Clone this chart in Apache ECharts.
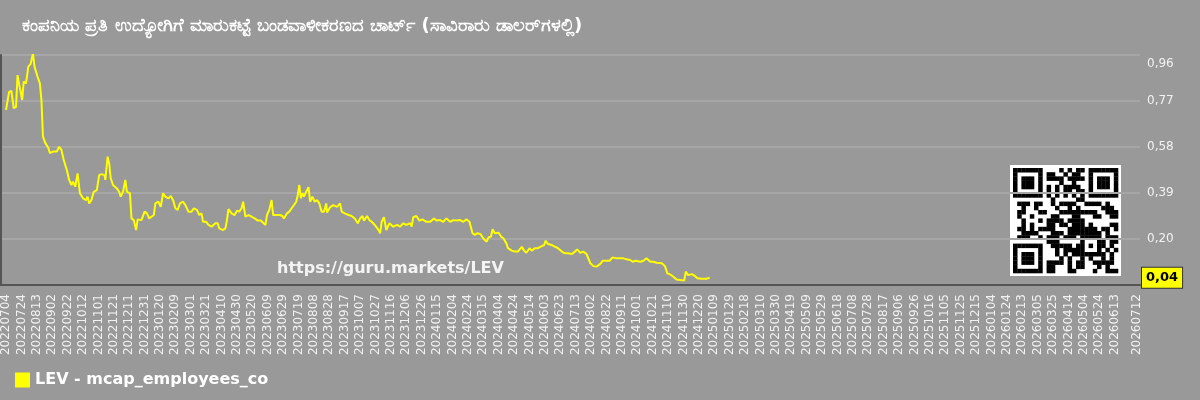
<!DOCTYPE html>
<html>
<head>
<meta charset="utf-8">
<script src="https://cdn.jsdelivr.net/npm/echarts@6/dist/echarts.min.js"></script>
<style>
  html, body { margin: 0; padding: 0; background: #999999; }
  #chart { width: 1200px; height: 400px; }
</style>
</head>
<body>
<div id="chart"></div>
<script>
// title (Kannada)
const titleText = 'ಕಂಪನಿಯ ಪ್ರತಿ ಉದ್ಯೋಗಿಗೆ ಮಾರುಕಟ್ಟೆ ಬಂಡವಾಳೀಕರಣದ ಚಾರ್ಟ್ (ಸಾವಿರಾರು ಡಾಲರ್‌ಗಳಲ್ಲಿ)';
const seriesName = 'LEV - mcap_employees_co';
const startDate = '20220704';

// x tick labels (every 20 days, plus the last one)
const xTickLabels = [
  '20220704','20220724','20220813','20220902','20220922','20221012','20221101','20221121','20221211','20221231',
  '20230120','20230209','20230301','20230321','20230410','20230430','20230520','20230609','20230629','20230719',
  '20230808','20230828','20230917','20231007','20231027','20231116','20231206','20231226',
  '20240115','20240204','20240224','20240315','20240404','20240424','20240514','20240603','20240623','20240713',
  '20240802','20240822','20240911','20241001','20241021','20241110','20241130','20241220',
  '20250109','20250129','20250218','20250310','20250330','20250419','20250509','20250529','20250618','20250708',
  '20250728','20250817','20250906','20250926','20251016','20251105','20251125','20251215',
  '20260104','20260124','20260213','20260305','20260325','20260414','20260504','20260524','20260613','20260712'
];
const yTicks = [0.20, 0.39, 0.58, 0.77, 0.96];

// days since startDate
const days = [
  0,4,7,10,13,15,18,21,23,26,29,32,35,37,39,41,44,46,48,51,55,57,61,66,69,72,75,79,82,85,87,90,93,96,100,
  104,106,108,111,114,118,121,124,128,129,132,134,136,139,144,147,149,152,155,157,161,163,166,169,171,176,
  180,183,186,189,192,194,198,201,204,207,211,214,217,220,223,226,230,233,237,241,244,248,251,254,256,260,
  263,267,272,275,277,282,285,287,289,293,297,300,303,
  306,308,311,315,319,323,327,331,334,337,339,342,345,347,352,356,359,361,365,368,371,374,377,379,381,383,
  385,387,390,393,395,398,401,404,407,410,413,416,417,421,425,430,434,436,440,445,449,453,457,460,463,465,
  469,472,475,479,484,486,488,491,494,498,503,508,512,516,520,525,527,529,533,537,541,546,551,556,559,564,
  568,572,577,581,585,590,594,598,602,
  606,609,612,616,620,624,627,630,632,635,640,643,646,650,652,657,661,665,670,673,676,680,683,687,691,696,
  699,701,704,709,713,717,722,726,730,735,739,742,746,750,754,759,763,767,772,775,779,784,788,793,798,802,
  806,811,814,818,824,828,832,837,841,845,852,856,859,862,867,871,876,881,883,886,891,895,898,904,910,914
];
const values = [
  .733,.808,.812,.741,.745,.877,.824,.774,.850,.843,.912,.923,.967,.912,.919,.870,.843,.774,.623,.597,.576,.555,.561,.561,.581,.568,.526,.485,.444,.423,.437,.416,.471,.389,.368,
  .361,.375,.347,.361,.395,.402,.464,.468,.464,.444,.540,.513,.451,.423,.409,.395,.375,.395,.444,.395,.389,.285,.278,.237,.281,.278,
  .313,.306,.285,.292,.299,.347,.354,.333,.389,.375,.368,.378,.361,.327,.320,.347,.354,.340,.313,.313,.327,.320,.299,.306,.271,.271,
  .258,.251,.265,.265,.244,.237,.244,.278,.323,.306,.299,.317,.313,
  .327,.354,.292,.299,.292,.285,.276,.276,.267,.258,.299,.320,.361,.299,.299,.299,.295,.285,.306,.313,.327,.340,.354,.382,.423,.368,
  .389,.375,.395,.414,.354,.375,.354,.361,.347,.313,.313,.347,.309,.331,.340,.333,.347,.313,.306,.299,.295,.285,.265,.285,.295,.276,
  .295,.278,.271,.258,.237,.224,.271,.290,.237,.265,.251,.258,.251,.265,.258,.265,.251,.290,.295,.276,.281,.271,.271,.285,.276,.278,
  .271,.285,.271,.278,.276,.278,.271,.281,.271,
  .224,.217,.224,.221,.203,.189,.207,.210,.240,.224,.226,.210,.203,.182,.162,.152,.148,.148,.168,.152,.143,.162,.152,.162,.162,.171,
  .175,.193,.179,.175,.168,.162,.148,.141,.141,.138,.148,.157,.143,.148,.138,.100,.088,.086,.097,.110,.110,.110,.124,.120,.120,.120,
  .116,.113,.106,.110,.106,.110,.120,.106,.106,.102,.100,.088,.058,.055,.044,.033,.031,.028,.065,.051,.055,.047,.038,.036,.036,.04
];

function parseYmd(s) {
  return Date.UTC(+s.slice(0, 4), +s.slice(4, 6) - 1, +s.slice(6, 8));
}
const DAY = 86400000;
const t0 = parseYmd(startDate);
const xTickDays = xTickLabels.map(s => Math.round((parseYmd(s) - t0) / DAY));
const labelByDay = {};
xTickDays.forEach((d, i) => { labelByDay[d] = xTickLabels[i]; });

const lineData = days.map((d, i) => [d, values[i]]);
const lastValue = values[values.length - 1];
const fmt = v => v.toFixed(2).replace('.', ',');

// QR-like badge (decoration only)
function qrElements(x0, y0, cell, n) {
  const els = [{ type: 'rect', shape: { x: x0 - 3, y: y0 - 3, width: cell * n + 6, height: cell * n + 6 }, style: { fill: '#fff' } }];
  const on = [];
  for (let r = 0; r < n; r++) { on.push(new Array(n).fill(false)); }
  let seed = 12345;
  const rnd = () => { seed = (seed * 1103515245 + 12345) % 2147483648; return seed / 2147483648; };
  for (let r = 0; r < n; r++) for (let c = 0; c < n; c++) on[r][c] = rnd() < 0.5;
  function finder(r0, c0) {
    for (let r = -1; r < 8; r++) for (let c = -1; c < 8; c++) {
      const rr = r0 + r, cc = c0 + c;
      if (rr < 0 || cc < 0 || rr >= n || cc >= n) continue;
      const ring = Math.max(Math.abs(r - 3), Math.abs(c - 3));
      on[rr][cc] = (ring === 3 || ring <= 1);
    }
  }
  finder(0, 0); finder(0, n - 7); finder(n - 7, 0);
  for (let r = -2; r <= 2; r++) for (let c = -2; c <= 2; c++) {
    const ring = Math.max(Math.abs(r), Math.abs(c));
    on[n - 7 + r][n - 7 + c] = ring !== 1;
  }
  for (let i = 8; i < n - 8; i++) { on[6][i] = i % 2 === 0; on[i][6] = i % 2 === 0; }
  for (let r = 0; r < n; r++) for (let c = 0; c < n; c++) {
    if (on[r][c]) {
      els.push({ type: 'rect', shape: { x: x0 + c * cell, y: y0 + r * cell, width: cell + 0.3, height: cell + 0.3 }, style: { fill: '#000' } });
    }
  }
  return els;
}

const chart = echarts.init(document.getElementById('chart'));
chart.setOption({
  backgroundColor: '#999999',
  animation: false,
  title: {
    text: titleText,
    left: 17,
    top: 12,
    textStyle: { color: '#ffffff', fontSize: 18, fontWeight: 'bold', fontFamily: 'DejaVu Sans' }
  },
  legend: {
    data: [seriesName],
    left: 10,
    top: 367,
    icon: 'rect',
    itemWidth: 15,
    itemHeight: 15,
    itemGap: 5,
    textStyle: { color: '#ffffff', fontSize: 16, fontWeight: 'bold', fontFamily: 'DejaVu Sans' }
  },
  grid: { left: 1, right: 60, top: 55, bottom: 115 },
  xAxis: {
    type: 'value',
    min: -6.5,
    max: 1473,
    axisLine: { show: true, lineStyle: { color: '#555555', width: 2 } },
    axisTick: { show: false, customValues: xTickDays },
    splitLine: { show: false },
    axisLabel: {
      customValues: xTickDays,
      rotate: 90,
      margin: 9,
      color: '#f2f2f2',
      fontSize: 12,
      fontFamily: 'DejaVu Sans',
      formatter: v => labelByDay[Math.round(v)] || ''
    }
  },
  yAxis: [{
    type: 'value',
    position: 'right',
    min: 0.01,
    max: 0.96,
    axisLine: { show: false },
    axisTick: { show: false, customValues: yTicks },
    splitLine: { show: true, lineStyle: { color: '#a6a6a6', width: 2 } },
    axisLabel: {
      customValues: yTicks,
      margin: 7,
      color: '#f2f2f2',
      fontSize: 12,
      fontFamily: 'DejaVu Sans',
      formatter: v => v > 0.95 ? '{top|' + fmt(v) + '}' : fmt(v),
      rich: { top: { padding: [18, 0, 0, 0], color: '#f2f2f2', fontSize: 12, fontFamily: 'DejaVu Sans' } }
    }
  }, {
    type: 'value',
    position: 'left',
    min: 0.01,
    max: 0.96,
    axisLine: { show: true, lineStyle: { color: '#555555', width: 2 } },
    axisTick: { show: false },
    axisLabel: { show: false },
    splitLine: { show: false }
  }],
  series: [{
    name: seriesName,
    type: 'line',
    yAxisIndex: 0,
    data: lineData,
    symbol: 'none',
    color: '#ffff00',
    lineStyle: { color: '#ffff00', width: 2 },
    markLine: {
      silent: true,
      symbol: 'none',
      lineStyle: { color: 'rgba(0,0,0,0)', width: 0, type: 'solid' },
      emphasis: { disabled: true },
      label: {
        show: true,
        position: 'end',
        distance: 2,
        formatter: () => fmt(lastValue),
        backgroundColor: '#ffff00',
        borderColor: '#333333',
        borderWidth: 1,
        padding: [4, 4, 3, 4],
        color: '#000000',
        fontSize: 13,
        fontWeight: 'bold',
        fontFamily: 'DejaVu Sans'
      },
      data: [{ yAxis: lastValue }]
    }
  }],
  graphic: [
    {
      type: 'text',
      left: 277,
      top: 261,
      style: { text: 'https://guru.markets/LEV', fill: '#f4f4f4', font: 'bold 16px "DejaVu Sans"' }
    },
    { type: 'group', children: qrElements(1013, 168, 4.2, 25) }
  ]
});
</script>
</body>
</html>
